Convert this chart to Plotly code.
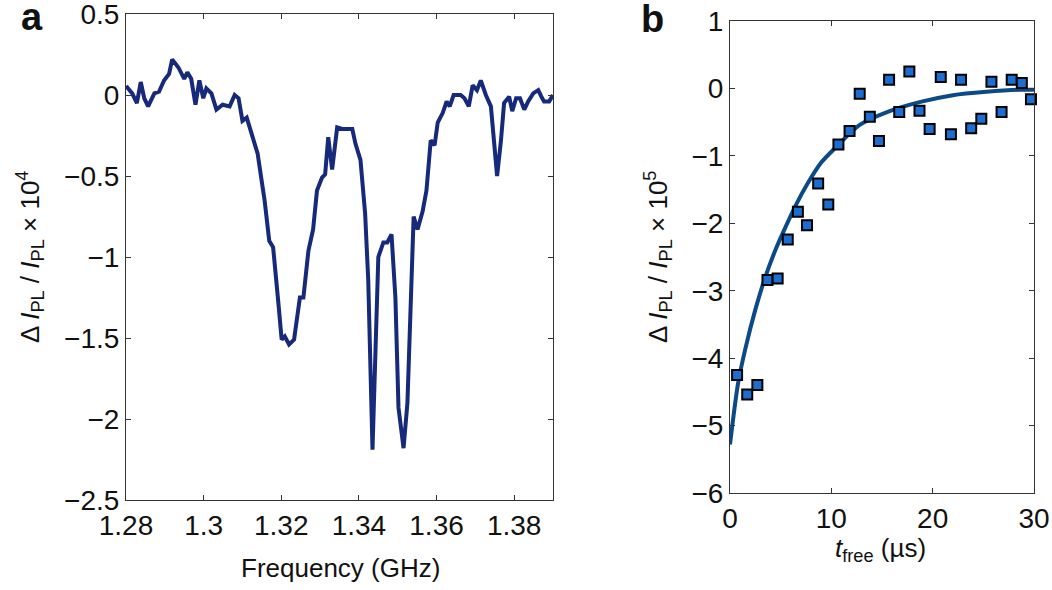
import plotly.graph_objects as go

# ---- Panel a: ODMR-like spectrum ----
freq_ghz = [1.2800, 1.2816, 1.2828, 1.2838, 1.2847, 1.2857, 1.2873, 1.2885, 1.2898, 1.2911,
            1.2919, 1.2935, 1.2950, 1.2958, 1.2968, 1.2979, 1.2989, 1.2999, 1.3007, 1.3020,
            1.3033, 1.3049, 1.3067, 1.3080, 1.3090, 1.3100, 1.3111, 1.3126, 1.3139, 1.3152,
            1.3157, 1.3169, 1.3179, 1.3192, 1.3201, 1.3209, 1.3220, 1.3233, 1.3248, 1.3257,
            1.3270, 1.3282, 1.3292, 1.3305, 1.3313, 1.3321, 1.3331, 1.3344, 1.3357, 1.3383,
            1.3391, 1.3404, 1.3416, 1.3424, 1.3435, 1.3450, 1.3463, 1.3473, 1.3484, 1.3494,
            1.3502, 1.3515, 1.3525, 1.3541, 1.3551, 1.3564, 1.3574, 1.3585, 1.3595, 1.3603,
            1.3616, 1.3626, 1.3634, 1.3644, 1.3662, 1.3672, 1.3683, 1.3693, 1.3704, 1.3714,
            1.3727, 1.3740, 1.3756, 1.3766, 1.3774, 1.3787, 1.3795, 1.3805, 1.3815, 1.3826,
            1.3836, 1.3849, 1.3862, 1.3870, 1.3877, 1.3890, 1.3900]
delta_pl_a = [0.056, 0.01, -0.05, 0.08, -0.02, -0.07, 0.01, 0.02, 0.09, 0.13,
              0.22, 0.17, 0.10, 0.14, 0.10, -0.06, 0.09, -0.02, 0.04, 0.01,
              -0.09, -0.06, -0.07, 0.00, -0.02, -0.16, -0.14, -0.26, -0.36, -0.57,
              -0.65, -0.90, -0.94, -1.27, -1.51, -1.49, -1.54, -1.51, -1.25, -1.25,
              -0.96, -0.83, -0.59, -0.51, -0.49, -0.26, -0.46, -0.20, -0.21, -0.21,
              -0.30, -0.40, -0.73, -1.14, -2.19, -1.00, -0.91, -0.91, -0.86, -1.25,
              -1.93, -2.18, -1.90, -0.75, -0.83, -0.72, -0.59, -0.28, -0.31, -0.17,
              -0.11, -0.04, -0.07, 0.00, 0.00, -0.02, -0.07, 0.06, 0.03, 0.09,
              0.00, -0.07, -0.50, -0.28, -0.05, -0.01, -0.10, -0.02, -0.02, -0.09,
              -0.04, 0.01, 0.03, -0.01, -0.04, -0.04, 0.00]

freq_tickvals = [1.28, 1.30, 1.32, 1.34, 1.36, 1.38]
freq_ticktext = ["1.28", "1.3", "1.32", "1.34", "1.36", "1.38"]
ya_tickvals = [0.5, 0, -0.5, -1, -1.5, -2, -2.5]
ya_ticktext = ["0.5", "0", "\u22120.5", "\u22121", "\u22121.5", "\u22122", "\u22122.5"]

# ---- Panel b: free-evolution decay ----
t_free_us = [0.7, 1.7, 2.7, 3.7, 4.7, 5.7, 6.7, 7.6, 8.7, 9.7,
             10.7, 11.8, 12.8, 13.8, 14.7, 15.7, 16.7, 17.7, 18.7, 19.7,
             20.8, 21.8, 22.8, 23.8, 24.8, 25.8, 26.8, 27.8, 28.8, 29.7]
delta_pl_b = [-4.25, -4.54, -4.40, -2.84, -2.82, -2.24, -1.83, -2.03, -1.41, -1.72,
              -0.83, -0.63, -0.08, -0.42, -0.78, 0.13, -0.35, 0.25, -0.33, -0.60,
              0.17, -0.68, 0.13, -0.59, -0.45, 0.10, -0.35, 0.13, 0.08, -0.16]
fit_t_us = [0.0, 0.8, 1.5, 2.5, 3.5, 4.5, 5.5, 6.5, 7.7, 9.0, 10.4, 12.8, 15.5, 18.8, 22.0, 25.3, 28.6, 30.0]
fit_delta = [-5.28, -4.37, -3.87, -3.28, -2.79, -2.39, -2.05, -1.73, -1.40, -1.10, -0.88,
             -0.54, -0.35, -0.20, -0.10, -0.05, -0.02, -0.02]

tb_tickvals = [0, 10, 20, 30]
tb_ticktext = ["0", "10", "20", "30"]
yb_tickvals = [1, 0, -1, -2, -3, -4, -5, -6]
yb_ticktext = ["1", "0", "\u22121", "\u22122", "\u22123", "\u22124", "\u22125", "\u22126"]

W, H = 1052, 590
FONT = "Liberation Sans, Arial, Helvetica, sans-serif"
AX = "#333333"
TXT = "#111111"

fig = go.Figure()
fig.add_trace(go.Scatter(x=freq_ghz, y=delta_pl_a, mode="lines",
                         line=dict(color="#16297A", width=4),
                         xaxis="x", yaxis="y", showlegend=False))
fig.add_trace(go.Scatter(x=fit_t_us, y=fit_delta, mode="lines",
                         line=dict(color="#0B4A86", width=4, shape="spline", smoothing=0.8),
                         xaxis="x2", yaxis="y2", showlegend=False))
fig.add_trace(go.Scatter(x=t_free_us, y=delta_pl_b, mode="markers",
                         marker=dict(symbol="square", size=10, color="#1B6FD2",
                                     line=dict(color="black", width=2)),
                         cliponaxis=False, xaxis="x2", yaxis="y2", showlegend=False))

common = dict(showline=True, linecolor=AX, linewidth=1, mirror="ticks", ticks="inside",
              ticklen=5, tickcolor=AX, showgrid=False, zeroline=False, automargin=False,
              ticklabeloverflow="allow",
              tickfont=dict(family=FONT, size=28, color=TXT))

fig.update_layout(
    width=W, height=H, margin=dict(l=0, r=0, t=0, b=0, autoexpand=False),
    paper_bgcolor="white", plot_bgcolor="white",
    xaxis=dict(domain=[126 / W, 553 / W], range=[1.28, 1.39], tickvals=freq_tickvals,
               ticktext=freq_ticktext, anchor="y", **common),
    yaxis=dict(domain=[1 - 500 / H, 1 - 14 / H], range=[-2.5, 0.5], tickvals=ya_tickvals,
               ticktext=ya_ticktext, anchor="x", **common),
    xaxis2=dict(domain=[730 / W, 1034 / W], range=[0, 30], tickvals=tb_tickvals,
                ticktext=tb_ticktext, anchor="y2", **common),
    yaxis2=dict(domain=[1 - 493 / H, 1 - 21 / H], range=[-6, 1], tickvals=yb_tickvals,
                ticktext=yb_ticktext, anchor="x2", **common),
)

ylab = "\u0394 <i>I</i><sub>PL</sub> / <i>I</i><sub>PL</sub> \u00d7 10<sup>%s</sup>"
ann = [
    dict(text="<b>a</b>", x=32 / W, y=1 - 17 / H, font=dict(size=38)),
    dict(text="<b>b</b>", x=652 / W, y=1 - 19 / H, font=dict(size=38)),
    dict(text="Frequency (GHz)", x=340 / W, y=1 - 568 / H, font=dict(size=26)),
    dict(text="<i>t</i><sub>free</sub> (\u00b5s)", x=880 / W, y=1 - 549 / H, font=dict(size=26)),
    dict(text=ylab % "4", x=30 / W, y=1 - 257 / H, textangle=-90, font=dict(size=26)),
    dict(text=ylab % "5", x=658 / W, y=1 - 257 / H, textangle=-90, font=dict(size=26)),
]
for a in ann:
    a.update(xref="paper", yref="paper", showarrow=False, xanchor="center", yanchor="middle")
    a["font"].update(family=FONT, color=TXT)
fig.update_layout(annotations=ann)

fig.write_html("out.html", config={"displayModeBar": False},
               post_script="document.body.style.margin='0px';document.body.style.padding='0px';")
